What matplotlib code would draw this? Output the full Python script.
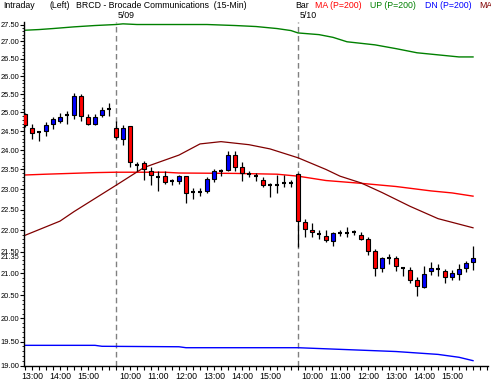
import matplotlib
matplotlib.use("Agg")
import matplotlib.pyplot as plt
import matplotlib.transforms as mtransforms
from matplotlib.ticker import FixedLocator, NullFormatter

plt.rcParams['font.family'] = ['Liberation Sans', 'DejaVu Sans']

# ---- 15-minute bars over three sessions ----
day_labels = ["5/08", "5/09", "5/10"]
day_start_times = ["12:45", "9:30", "9:30"]
day_bar_counts = [13, 26, 26]

opens = [24.96, 24.58, 24.48, 24.50, 24.69, 24.78, 24.92, 24.92, 25.46, 24.88, 24.69, 24.93, 25.08,
         24.58, 24.28, 24.63, 23.62, 23.66, 23.45, 23.31, 23.33, 23.20, 23.22, 23.33, 22.94, 22.94,
         22.95, 23.26, 23.45, 23.48, 23.87, 23.56, 23.39, 23.33, 23.23, 23.10, 23.12, 23.15, 23.15,
         23.39, 22.21, 22.00, 21.92, 21.87, 21.74, 21.93, 21.93, 21.95, 21.90, 21.79, 21.51, 21.13,
         21.34, 21.34, 21.12, 21.08, 20.85, 20.69, 21.04, 21.09, 21.06, 20.91, 20.99, 21.13, 21.26]
highs = [24.98, 24.68, 24.50, 24.74, 24.87, 24.99, 25.04, 25.54, 25.50, 24.96, 24.96, 25.15, 25.26,
         24.77, 24.67, 24.63, 23.70, 23.71, 23.57, 23.45, 23.45, 23.27, 23.36, 23.34, 23.04, 23.04,
         23.32, 23.52, 23.52, 23.97, 23.97, 23.70, 23.45, 23.41, 23.30, 23.15, 23.35, 23.35, 23.24,
         23.40, 22.27, 22.17, 22.00, 22.00, 21.96, 22.00, 22.08, 22.00, 21.96, 21.84, 21.56, 21.37,
         21.45, 21.39, 21.14, 21.14, 20.91, 21.16, 21.25, 21.20, 21.09, 21.07, 21.21, 21.29, 21.63]
lows = [24.60, 24.30, 24.24, 24.37, 24.56, 24.71, 24.69, 24.81, 24.77, 24.65, 24.65, 24.87, 24.90,
        24.28, 24.14, 23.56, 23.45, 23.24, 23.12, 22.95, 23.13, 23.10, 23.13, 22.66, 22.77, 22.84,
        22.90, 23.18, 23.33, 23.45, 23.45, 23.22, 23.31, 23.20, 23.05, 22.82, 22.92, 23.05, 23.05,
        21.60, 21.83, 21.83, 21.80, 21.72, 21.64, 21.86, 21.85, 21.88, 21.76, 21.41, 20.94, 21.03,
        21.22, 21.06, 20.93, 20.78, 20.49, 20.67, 20.96, 20.94, 20.78, 20.85, 20.85, 21.03, 21.08]
closes = [24.65, 24.45, 24.48, 24.66, 24.83, 24.88, 24.92, 25.46, 24.91, 24.69, 24.88, 25.07, 25.08,
          24.33, 24.58, 23.68, 23.62, 23.50, 23.36, 23.31, 23.19, 23.20, 23.33, 22.92, 22.94, 22.94,
          23.25, 23.47, 23.45, 23.87, 23.57, 23.41, 23.39, 23.33, 23.12, 23.10, 23.12, 23.15, 23.15,
          22.22, 22.02, 21.95, 21.92, 21.76, 21.93, 21.93, 21.93, 21.95, 21.79, 21.52, 21.13, 21.34,
          21.34, 21.16, 21.12, 20.85, 20.72, 20.99, 21.13, 21.09, 20.91, 21.00, 21.10, 21.24, 21.34]
last_price = 21.35

# ---- indicator lines (bar index, value) ----
up_idx = [0, 2, 4, 7, 10, 13, 14, 16, 26, 30, 33, 36, 38, 39, 42, 44, 46, 50, 53, 56, 59, 62, 64]
up_val = [27.33, 27.35, 27.38, 27.43, 27.47, 27.50, 27.52, 27.50, 27.50, 27.47, 27.44, 27.38, 27.32,
          27.25, 27.20, 27.12, 26.99, 26.90, 26.79, 26.67, 26.61, 26.55, 26.55]
dn_idx = [0, 10, 11, 22, 23, 39, 46, 53, 59, 62, 64]
dn_val = [19.42, 19.42, 19.40, 19.39, 19.37, 19.37, 19.33, 19.29, 19.23, 19.17, 19.10]
ma_idx = [0, 3, 10, 13, 20, 22, 30, 36, 39, 43, 48, 53, 58, 61, 64]
ma_val = [23.36, 23.38, 23.42, 23.43, 23.43, 23.41, 23.40, 23.38, 23.33, 23.22, 23.15, 23.07,
          22.96, 22.91, 22.83]
ma2_idx = [0, 5, 7, 13, 17, 22, 25, 28, 32, 35, 39, 43, 45, 48, 51, 55, 59, 64]
ma2_val = [21.88, 22.22, 22.45, 23.10, 23.55, 23.87, 24.16, 24.22, 24.14, 24.03, 23.80, 23.50,
           23.33, 23.16, 22.92, 22.58, 22.28, 22.06]

y_ticks = [19.0 + 0.5 * k for k in range(18)]

# ---- build bar times ----
bar_times = []
for st, n in zip(day_start_times, day_bar_counts):
    h, m = map(int, st.split(":"))
    t = h * 60 + m
    for k in range(n):
        tt = t + 15 * k
        bar_times.append((tt // 60, tt % 60))
day_starts = []
acc = 0
for n in day_bar_counts:
    day_starts.append(acc)
    acc += n
n_bars = len(opens)

W, H = 491, 388
fig = plt.figure(figsize=(W / 100, H / 100), dpi=100)
fig.patch.set_facecolor("white")
ax_l, ax_r, ax_t, ax_b = 24, 488, 21.5, 365.5
ax = fig.add_axes([ax_l / W, 1 - ax_b / H, (ax_r - ax_l) / W, (ax_b - ax_t) / H])
ax.set_yscale("log")

FS = 6.3
YFS = 5.4

# lines
ax.plot(up_idx, up_val, color="#008000", lw=1.0, zorder=2)
ax.plot(dn_idx, dn_val, color="#0000FF", lw=1.0, zorder=2)
ax.plot(ma_idx, ma_val, color="#FF0000", lw=1.0, zorder=2)
ax.plot(ma2_idx, ma2_val, color="#800000", lw=0.9, zorder=2)

# day separators
for ds in day_starts[1:]:
    ax.axvline(ds, color="#808080", lw=1.0, linestyle=(0, (4, 2.5)), zorder=1)

# candles
bw = 0.68
for i in range(n_bars):
    o, h, l, c = opens[i], highs[i], lows[i], closes[i]
    ax.vlines(i, l, h, color="black", lw=0.9, zorder=3)
    if abs(c - o) < 1e-9:
        ax.hlines(o, i - bw / 2, i + bw / 2, color="black", lw=1.5, zorder=4)
    else:
        col = "#0000FF" if c > o else "#FF0000"
        ax.bar(i, abs(c - o), bottom=min(o, c), width=bw, color=col,
               edgecolor="black", linewidth=0.8, zorder=4)

ax.set_xlim(-0.14, 66.14)
ax.set_ylim(19.0, 27.59)

# axes styling
for s in ["top", "right"]:
    ax.spines[s].set_visible(False)
for s in ["left", "bottom"]:
    ax.spines[s].set_linewidth(1.0)
    ax.spines[s].set_color("black")

# y ticks
ax.yaxis.set_major_locator(FixedLocator(y_ticks))
ax.set_yticklabels([f"{v:.2f}" for v in y_ticks])
ax.yaxis.set_minor_locator(FixedLocator([19.0 + 0.1 * k for k in range(86)]))
ax.yaxis.set_minor_formatter(NullFormatter())
ax.tick_params(axis="y", which="major", length=2.8, width=0.8, pad=0.4, labelsize=YFS, direction="out")
ax.tick_params(axis="y", which="minor", length=1.5, width=0.6, direction="out")

# x ticks
hour_pos = [i for i, (hh, mm) in enumerate(bar_times) if mm == 0]
hour_lab = [f"{bar_times[i][0]}:00" for i in hour_pos]
ax.set_xticks(hour_pos)
ax.set_xticklabels(hour_lab)
ax.set_xticks(list(range(0, 67)), minor=True)
ax.tick_params(axis="x", which="both", length=3, width=0.8, pad=1.5, labelsize=FS, direction="out")

# last price label
ax.annotate(f"{last_price:.2f}", xy=(0, last_price), xycoords=("axes fraction", "data"),
            xytext=(-3.2, 0), textcoords="offset points", ha="right", va="center",
            fontsize=YFS, bbox=dict(boxstyle="square,pad=0.05", fc="white", ec="none"), zorder=10,
            annotation_clip=False)

# day labels above separators
trans = mtransforms.blended_transform_factory(ax.transData, ax.transAxes)
for ds, lab in zip(day_starts[1:], day_labels[1:]):
    ax.text(ds + 0.3, 1.0 + 6.0 / (ax_b - ax_t), lab, transform=trans, fontsize=FS,
            ha="left", va="center", clip_on=False)

# header
yh = 1 - 5.8 / H
fig.text(3 / W, yh, "Intraday", fontsize=FS, va="center", ha="left")
fig.text(50 / W, yh, "(Left)", fontsize=FS, va="center", ha="left")
fig.text(76 / W, yh, "BRCD - Brocade Communications  (15-Min)", fontsize=FS, va="center", ha="left")
fig.text(295 / W, yh, "Bar", fontsize=FS, va="center", ha="left")
fig.text(315 / W, yh, "MA (P=200)", fontsize=FS, va="center", ha="left", color="#FF0000")
fig.text(370 / W, yh, "UP (P=200)", fontsize=FS, va="center", ha="left", color="#008000")
fig.text(425 / W, yh, "DN (P=200)", fontsize=FS, va="center", ha="left", color="#0000FF")
fig.text(479 / W, yh, "MA", fontsize=FS, va="center", ha="left", color="#800000")

fig.savefig("out.png", dpi=100, facecolor="white")
